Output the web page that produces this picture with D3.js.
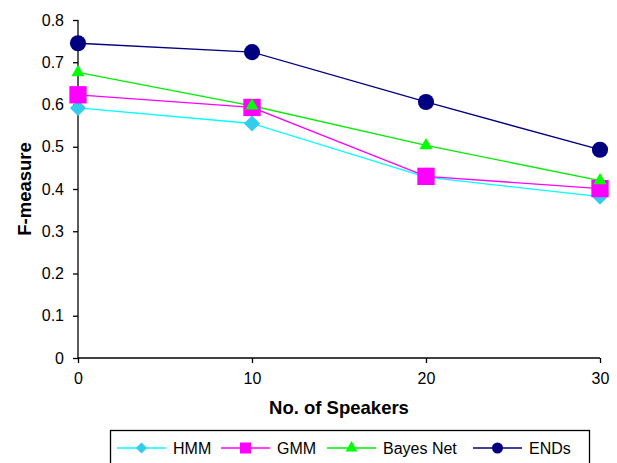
<!DOCTYPE html>
<html>
<head>
<meta charset="utf-8">
<script src="https://cdn.jsdelivr.net/npm/d3@7"></script>
<style>
  body { margin: 0; background: #fff; }
  svg { font-family: "Liberation Sans", Arial, sans-serif; }
</style>
</head>
<body>
<svg width="617" height="463"></svg>
<script>
// data
const speakers = [0, 10, 20, 30];
const hmm = [0.592, 0.555, 0.428, 0.382];
const gmm = [0.623, 0.593, 0.430, 0.401];
const bayesNet = [0.676, 0.597, 0.503, 0.420];
const ends = [0.745, 0.724, 0.606, 0.493];
const yTicks = [0, 0.1, 0.2, 0.3, 0.4, 0.5, 0.6, 0.7, 0.8];

const series = [
  { name: "HMM", values: hmm, colour: "#00ffff", fill: "#33ccee", shape: d3.symbolDiamond2, size: 165, legendSize: 80 },
  { name: "GMM", values: gmm, colour: "#ff00ff", fill: "#ff00ff", shape: d3.symbolSquare, size: 300, legendSize: 121 },
  { name: "Bayes Net", values: bayesNet, colour: "#00ee00", fill: "#00ff00", shape: d3.symbolTriangle, size: 75, legendSize: 62 },
  { name: "ENDs", values: ends, colour: "#000080", fill: "#000080", shape: d3.symbolCircle, size: 205, legendSize: 95 }
];

const margin = { top: 20, right: 17, bottom: 105, left: 78 };
const width = 617, height = 463;

const svg = d3.select('svg');

const x = d3.scaleLinear()
  .domain([0, 30])
  .range([margin.left, width - margin.right]);
const y = d3.scaleLinear()
  .domain([0, 0.8])
  .range([height - margin.bottom, margin.top]);

const xAxis = d3.axisBottom(x).tickValues(speakers).tickSize(5).tickPadding(10);
const yAxis = d3.axisLeft(y).tickValues(yTicks).tickSize(5).tickPadding(9)
  .tickFormat(d => d === 0 ? "0" : d3.format(".1f")(d));

const gx = svg.append('g')
  .attr('transform', `translate(0, ${y(0)})`)
  .call(xAxis);
const gy = svg.append('g')
  .attr('transform', `translate(${x(0)}, 0)`)
  .call(yAxis);

[gx, gy].forEach(g => {
  g.select('.domain').attr('stroke', '#000').attr('stroke-width', 1.3);
  g.selectAll('.tick line').attr('stroke', '#000').attr('stroke-width', 1.3);
  g.selectAll('.tick text').attr('fill', '#000').style('font-size', '16px');
});
gx.select('.domain').attr('d', `M${x(0)},0H${x(30)}`);
gy.select('.domain').attr('d', `M0,${y(0.8)}V${y(0)}`);

// axis titles
svg.append('text')
  .attr('x', (x(0) + x(30)) / 2)
  .attr('y', 414)
  .attr('text-anchor', 'middle')
  .style('font-size', '18.5px')
  .style('font-weight', 'bold')
  .text('No. of Speakers');

svg.append('text')
  .attr('transform', `translate(31, ${(y(0) + y(0.8)) / 2}) rotate(-90)`)
  .attr('text-anchor', 'middle')
  .style('font-size', '18.5px')
  .style('font-weight', 'bold')
  .text('F-measure');

const line = d3.line()
  .x((d, i) => x(speakers[i]))
  .y(d => y(d));

series.forEach(s => {
  svg.append('path')
    .datum(s.values)
    .attr('d', line)
    .attr('fill', 'none')
    .attr('stroke', s.colour)
    .attr('stroke-width', 1.3);
});

series.forEach(s => {
  svg.selectAll(null)
    .data(s.values)
    .enter()
    .append('path')
    .attr('d', d3.symbol().type(s.shape).size(s.size))
    .attr('transform', (d, i) => `translate(${x(speakers[i])}, ${y(d)})`)
    .attr('fill', s.fill);
});

// legend
const legend = svg.append('g');
legend.append('rect')
  .attr('x', 110.5).attr('y', 430.5)
  .attr('width', 479).attr('height', 40)
  .attr('fill', '#fff').attr('stroke', '#000').attr('stroke-width', 1.3);

const legendX = [117, 221, 327, 473];
series.forEach((s, i) => {
  const g = legend.append('g').attr('transform', `translate(${legendX[i]}, 448)`);
  g.append('line').attr('x1', 0).attr('x2', 49).attr('y1', 0).attr('y2', 0)
    .attr('stroke', s.colour).attr('stroke-width', 1.3);
  g.append('path')
    .attr('d', d3.symbol().type(s.shape).size(s.legendSize))
    .attr('transform', 'translate(24.5, 0)')
    .attr('fill', s.fill);
  g.append('text')
    .attr('x', 56).attr('y', 5.5)
    .style('font-size', '16px')
    .text(s.name);
});
</script>
</body>
</html>
